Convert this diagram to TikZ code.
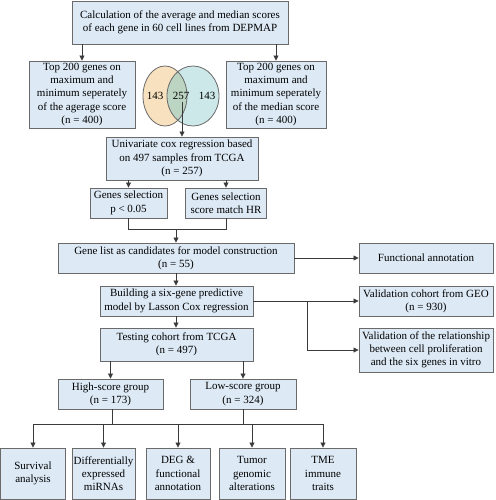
\documentclass[tikz,border=0pt]{standalone}
\usepackage{fontspec}
\setmainfont{Liberation Serif}
\usetikzlibrary{arrows.meta}
\definecolor{boxfill}{HTML}{DDEAF6}
\definecolor{boxline}{HTML}{6A6A6A}
\definecolor{lnk}{HTML}{3A3A3A}
\definecolor{vleft}{HTML}{F8E1BE}
\definecolor{vright}{HTML}{CDE8E8}
\definecolor{vlens}{HTML}{BCD5C2}
\begin{document}
\begin{tikzpicture}[x=1pt,y=-1pt,
  box/.style={draw=boxline,fill=boxfill,line width=0.9pt,align=center,inner sep=0.5pt,
    font=\fontsize{11}{13.3}\selectfont},
  arr/.style={draw=lnk,line width=0.8pt,-{Triangle[length=5pt,width=5pt]}},
  ln/.style={draw=lnk,line width=0.8pt},
  num/.style={font=\fontsize{11}{13}\selectfont,inner sep=0pt}]
\useasboundingbox (0,0) rectangle (495,500);
% Venn
\fill[vleft] (165,96) ellipse [x radius=22, y radius=30];
\fill[vright] (193,96) ellipse [x radius=26, y radius=30];
\begin{scope}
\clip (165,96) ellipse [x radius=22, y radius=30];
\fill[vlens] (193,96) ellipse [x radius=26, y radius=30];
\end{scope}
\draw[boxline,line width=0.8pt] (165,96) ellipse [x radius=22, y radius=30];
\draw[boxline,line width=0.8pt] (193,96) ellipse [x radius=26, y radius=30];
\node[num] (v1) at (155,96) {143};
\node[num] (v2) at (181,96) {257};
\node[num] (v3) at (207,96) {143};
\coordinate (vs) at (182,102);
% boxes
\node[box,minimum width=216,minimum height=43] (top) at (180,22.5) {Calculation of the average and median scores\\of each gene in 60 cell lines from DEPMAP};
\node[box,minimum width=106,minimum height=67] (L) at (82,94.5) {Top 200 genes on\\maximum and\\minimum seperately\\of the agerage score\\(n = 400)};
\node[box,minimum width=100,minimum height=67] (R) at (276,94.5) {Top 200 genes on\\maximum and\\minimum seperately\\of the median score\\(n = 400)};
\node[box,minimum width=152,minimum height=43] (univ) at (182,158.5) {Univariate cox regression based\\on 497 samples from TCGA\\(n = 257)};
\node[box,minimum width=77,minimum height=30] (gsl) at (128.5,203) {Genes selection\\p < 0.05};
\node[box,minimum width=81,minimum height=30] (gsr) at (226,203) {Genes selection\\score match HR};
\node[box,minimum width=236,minimum height=30] (gl) at (176,258) {Gene list as candidates for model construction\\(n = 55)};
\node[box,minimum width=134,minimum height=30] (fa) at (426,258) {Functional annotation};
\node[box,minimum width=153,minimum height=30] (build) at (176.5,301) {Building a six-gene predictive\\model by Lasson Cox regression};
\node[box,minimum width=134,minimum height=30] (vg) at (426,301) {Validation cohort from GEO\\(n = 930)};
\node[box,minimum width=134,minimum height=44] (vr) at (426,350) {Validation of the relationship\\between cell proliferation\\and the six genes in vitro};
\node[box,minimum width=153,minimum height=33] (test) at (176.5,344.5) {Testing cohort from TCGA\\(n = 497)};
\node[box,minimum width=105,minimum height=30] (high) at (110.5,394) {High-score group\\(n = 173)};
\node[box,minimum width=106,minimum height=30] (low) at (243,394) {Low-score group\\(n = 324)};
\node[box,minimum width=65,minimum height=51] (b1) at (33,473.5) {Survival\\analysis};
\node[box,minimum width=63,minimum height=51] (b2) at (103.5,473.5) {Differentially\\expressed\\miRNAs};
\node[box,minimum width=64,minimum height=51] (b3) at (178,473.5) {DEG \&\\functional\\annotation};
\node[box,minimum width=66,minimum height=51] (b4) at (252,473.5) {Tumor\\genomic\\alterations};
\node[box,minimum width=66,minimum height=51] (b5) at (323,473.5) {TME\\immune\\traits};
% connectors
\draw[arr] (top.south -| L) -- (L.north);
\draw[arr] (top.south -| R) -- (R.north);
\draw[arr] (vs) -- (vs |- univ.north);
\draw[arr] (univ.south -| gsl) -- (gsl.north);
\draw[arr] (univ.south -| gsr) -- (gsr.north);
\coordinate (j1) at (176,229);
\draw[ln] (gsl.south) |- (j1);
\draw[ln] (gsr.south) |- (j1);
\draw[arr] (j1) -- (j1 |- gl.north);
\draw[arr] (gl.east) -- (fa.west);
\draw[arr] (gl.south -| j1) -- (build.north -| j1);
\draw[arr] (build.east) -- (vg.west);
\coordinate (br) at (307,301);
\draw[arr] (br) |- (vr.west);
\draw[arr] (build.south -| j1) -- (test.north -| j1);
\draw[arr] (test.south -| high) -- (high.north);
\draw[arr] (test.south -| low) -- (low.north);
\coordinate (hb) at (112,424);
\draw[ln] (high.south -| hb) -- (hb);
\draw[ln] (low.south) -- (low.south |- hb);
\draw[ln] (hb -| b1) -- (hb -| b5);
\foreach \b in {b1,b2,b3,b4,b5}{\draw[arr] (hb -| \b) -- (\b.north);}
\end{tikzpicture}
\end{document}
